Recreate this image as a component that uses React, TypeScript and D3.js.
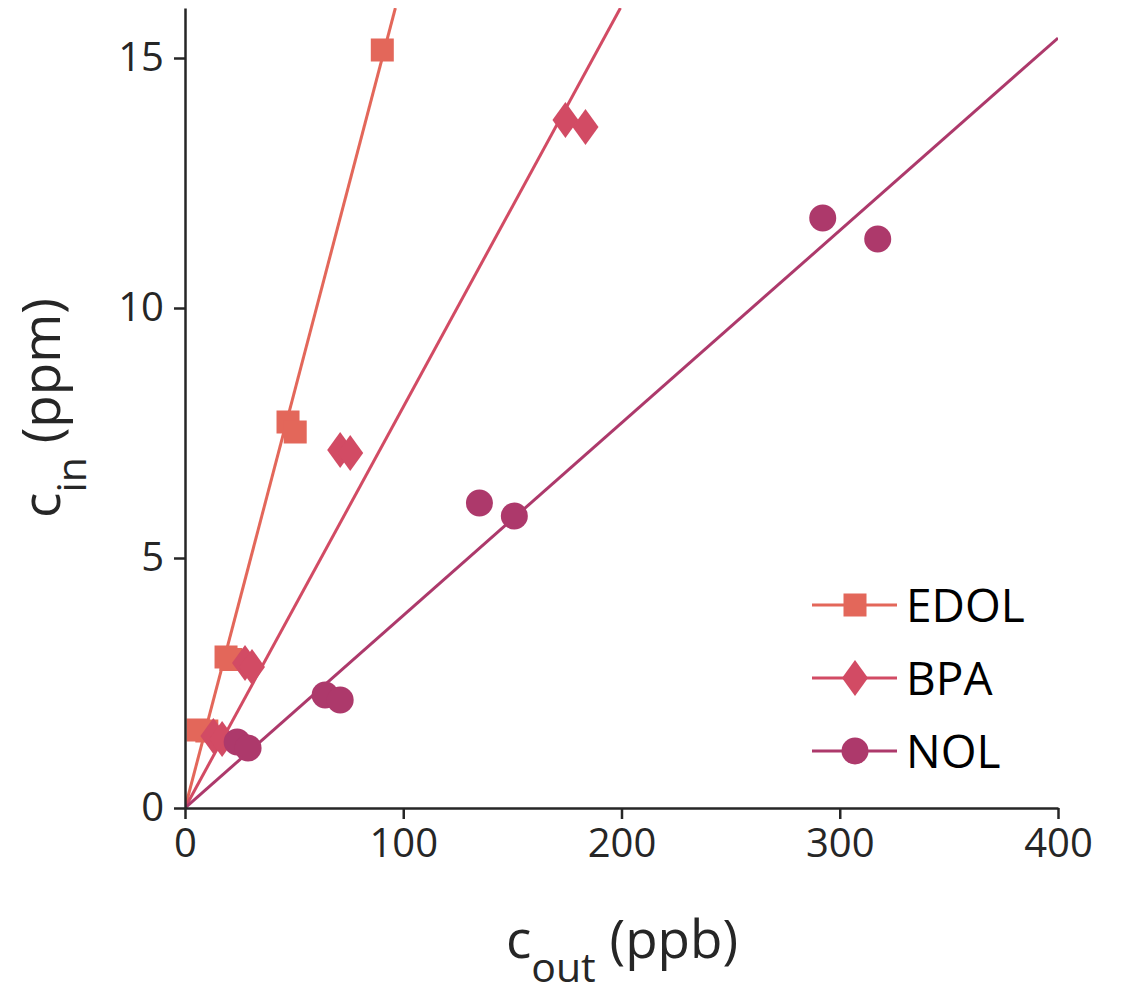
import * as d3 from "d3";
import React, { useRef, useEffect } from "react";

// c_out in ppb, c_in in ppm
const seriesNames = ["EDOL", "BPA", "NOL"];
const edolX = [90.4, 47.2, 50.5, 18.8, 21.0, 6.0, 10.0];
const edolY = [15.16, 7.72, 7.52, 3.02, 2.97, 1.56, 1.54];
const bpaX = [174.3, 183.5, 71.1, 75.7, 27.5, 30.7, 13.0, 17.0];
const bpaY = [13.76, 13.62, 7.16, 7.1, 2.9, 2.82, 1.44, 1.38];
const nolX = [292.2, 317.4, 134.9, 150.9, 64.2, 71.1, 23.9, 28.9];
const nolY = [11.8, 11.38, 6.1, 5.84, 2.26, 2.16, 1.32, 1.2];
// fitted slopes through the origin (ppm per ppb)
const fitSlopes = [0.166, 0.0802, 0.0385];
const xTicks = [0, 100, 200, 300, 400];
const yTicks = [0, 5, 10, 15];
const colors = ["#e3675a", "#d24b64", "#ad396b"];
const shapes = ["square", "diamond", "circle"];

const W = 1122;
const H = 993;
const FONT = "'Open Sans', 'Noto Sans', sans-serif";

const App = () => {
  const ref = useRef(null);

  useEffect(() => {
    document.body.style.margin = "0";
    const svg = d3.select(ref.current);
    svg.selectAll("*").remove();

    const x = d3.scaleLinear().domain([0, 400]).range([185, 1058]);
    const y = d3.scaleLinear().domain([0, 16]).range([808, 8]);

    const data = [
      { xs: edolX, ys: edolY },
      { xs: bpaX, ys: bpaY },
      { xs: nolX, ys: nolY },
    ];

    svg
      .append("defs")
      .append("clipPath")
      .attr("id", "plotclip")
      .append("rect")
      .attr("x", 185)
      .attr("y", 8)
      .attr("width", 1058 - 185)
      .attr("height", 800);

    const drawMarker = (g, shape, cx, cy, color) => {
      if (shape === "square") {
        g.append("rect")
          .attr("x", cx - 11.5)
          .attr("y", cy - 11.5)
          .attr("width", 23)
          .attr("height", 23)
          .attr("fill", color);
      } else if (shape === "diamond") {
        g.append("path")
          .attr("d", `M${cx},${cy - 18}L${cx + 13},${cy}L${cx},${cy + 18}L${cx - 13},${cy}Z`)
          .attr("fill", color);
      } else {
        g.append("circle").attr("cx", cx).attr("cy", cy).attr("r", 13.5).attr("fill", color);
      }
    };

    // fit lines
    const lineG = svg.append("g").attr("clip-path", "url(#plotclip)");
    fitSlopes.forEach((s, i) => {
      const xEnd = Math.min(400, 16 / s);
      lineG
        .append("line")
        .attr("x1", x(0))
        .attr("y1", y(0))
        .attr("x2", x(xEnd))
        .attr("y2", y(s * xEnd))
        .attr("stroke", colors[i])
        .attr("stroke-width", 3);
    });

    // markers
    const markG = svg.append("g");
    data.forEach((d, i) => {
      d.xs.forEach((v, j) => {
        drawMarker(markG, shapes[i], x(v), y(d.ys[j]), colors[i]);
      });
    });

    // axes
    const axisColor = "#262626";
    const xAxis = svg
      .append("g")
      .attr("transform", "translate(0,808)")
      .call(d3.axisBottom(x).tickValues(xTicks).tickSize(11).tickSizeOuter(0).tickPadding(10));
    const yAxis = svg
      .append("g")
      .attr("transform", "translate(185,0)")
      .call(d3.axisLeft(y).tickValues(yTicks).tickSize(11).tickSizeOuter(0).tickPadding(10));
    [xAxis, yAxis].forEach((a) => {
      a.select(".domain").attr("stroke", axisColor).attr("stroke-width", 2.5);
      a.selectAll(".tick line").attr("stroke", axisColor).attr("stroke-width", 2.5);
      a.selectAll(".tick text")
        .attr("fill", axisColor)
        .style("font-family", FONT)
        .style("font-size", "40px");
    });

    // axis labels
    const xl = svg
      .append("text")
      .attr("x", 622)
      .attr("y", 958)
      .attr("text-anchor", "middle")
      .attr("fill", axisColor)
      .style("font-family", FONT)
      .style("font-size", "53px");
    xl.append("tspan").text("c");
    xl.append("tspan").attr("dy", 24).style("font-size", "41px").text("out");
    xl.append("tspan").attr("dy", -24).text(" (ppb)");

    const yl = svg
      .append("text")
      .attr("transform", "translate(60,408) rotate(-90)")
      .attr("text-anchor", "middle")
      .attr("fill", axisColor)
      .style("font-family", FONT)
      .style("font-size", "53px");
    yl.append("tspan").text("c");
    yl.append("tspan").attr("dy", 26).style("font-size", "41px").text("in");
    yl.append("tspan").attr("dy", -26).text(" (ppm)");

    // legend
    const legY = [605, 678, 751];
    const legG = svg.append("g");
    seriesNames.forEach((name, i) => {
      legG
        .append("line")
        .attr("x1", 812)
        .attr("x2", 897)
        .attr("y1", legY[i])
        .attr("y2", legY[i])
        .attr("stroke", colors[i])
        .attr("stroke-width", 3);
      drawMarker(legG, shapes[i], 855, legY[i], colors[i]);
      legG
        .append("text")
        .attr("x", 906)
        .attr("y", legY[i])
        .attr("dy", "0.36em")
        .attr("fill", "#000")
        .style("font-family", FONT)
        .style("font-size", "46px")
        .text(name);
    });
  }, []);

  return <svg ref={ref} width={W} height={H} style={{ display: "block", background: "#fff" }} />;
};

export default App;
